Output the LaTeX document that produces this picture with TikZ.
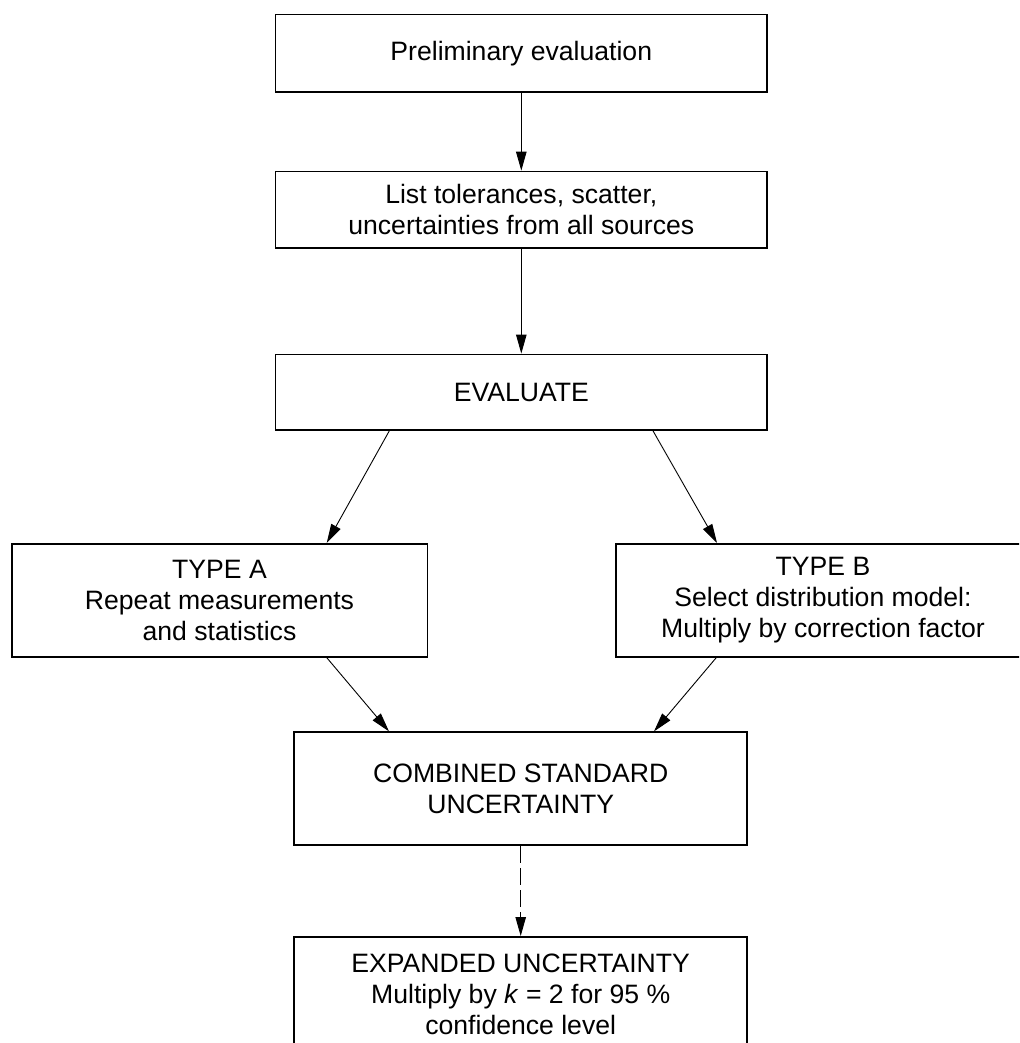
\documentclass[tikz,border=0pt]{standalone}
\usepackage{fontspec}
\setmainfont{Liberation Sans}
\usetikzlibrary{arrows.meta,calc}
\begin{document}
\begin{tikzpicture}[x=1pt,y=-1pt,
  box/.style={draw, line width=1.6pt, align=center, inner sep=0pt,
    font=\fontsize{26.6}{31}\selectfont},
  conn/.style={line width=0.9pt, -{Triangle[length=19pt,width=10.5pt]}},
]
\useasboundingbox (0,0) rectangle (1019,1043);
\clip (0,0) rectangle (1019,1043);

\node[box, minimum width=491.5pt, minimum height=77.8pt] (pre) at (521.3,53.4) {Preliminary evaluation};
\node[box, minimum width=491.5pt, minimum height=76.5pt] (list) at (521.3,209.7) {List tolerances, scatter,\\uncertainties from all sources};
\node[box, minimum width=491.5pt, minimum height=75.7pt] (eval) at (521.3,392.2) {EVALUATE};
\node[box, minimum width=415.6pt, minimum height=113pt] (typeA) at (219.5,600.3) {TYPE A\\Repeat measurements\\and statistics};
\node[box, minimum width=414pt, minimum height=113pt] (typeB) at (823,600.3) {TYPE B\\Select distribution model:\\Multiply by correction factor};
\node[box, minimum width=453pt, minimum height=113pt] (comb) at (520.7,788.7) {COMBINED STANDARD\\UNCERTAINTY};
\node[box, minimum width=453pt, inner xsep=0pt, inner ysep=17pt, anchor=north] (exp) at (520.7,936) {EXPANDED UNCERTAINTY\\Multiply by \textit{k} = 2 for 95 \%\\confidence level};

\draw[conn] (pre.south) -- (list.north);
\draw[conn] (list.south) -- (eval.north);
\draw[conn] (eval.south -| 389.3,0) -- (typeA.north -| 326.7,0);
\draw[conn] (eval.south -| 653,0) -- (typeB.north -| 717,0);
\draw[conn] (typeA.south -| 326.7,0) -- (comb.north -| 389,0);
\draw[conn] (typeB.south -| 716.3,0) -- (comb.north -| 654,0);
\draw[conn, dash pattern=on 17pt off 5pt] (comb.south) -- (exp.north);
\end{tikzpicture}
\end{document}
